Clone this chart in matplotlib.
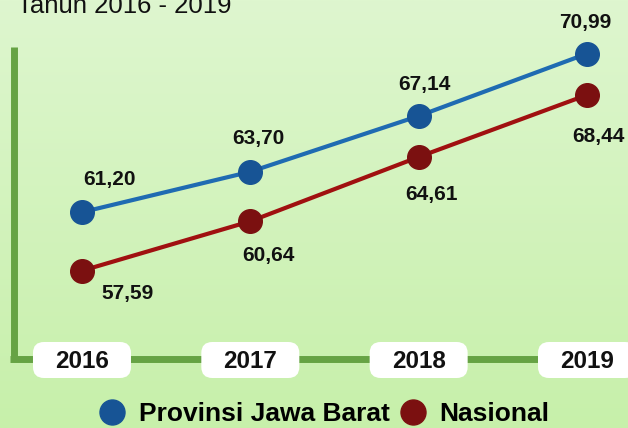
import numpy as np
import matplotlib.pyplot as plt
from matplotlib.patches import FancyBboxPatch
from matplotlib.lines import Line2D

plt.rcParams['font.family'] = ['Liberation Sans', 'DejaVu Sans']

# data
years = [2016, 2017, 2018, 2019]
jabar = [61.20, 63.70, 67.14, 70.99]
nasional = [57.59, 60.64, 64.61, 68.44]
jabar_txt = ['61,20', '63,70', '67,14', '70,99']
nasional_txt = ['57,59', '60,64', '64,61', '68,44']

# label offsets in pixels (dx, dy up)
off_jabar = [(28, 33), (8, 33), (6, 31), (-2, 31)]
off_nas = [(46, -23), (18, -34), (13, -38), (11, -42)]

W, H = 628, 428
fig = plt.figure(figsize=(W / 100, H / 100), dpi=100)

# background / decoration axes in pixel coords
bg = fig.add_axes([0, 0, 1, 1], zorder=0)
bg.set_xlim(0, W)
bg.set_ylim(H, 0)
bg.axis('off')
top = np.array([222, 246, 207]) / 255
bot = np.array([199, 240, 170]) / 255
t = np.linspace(0, 1, 256)[:, None]
grad = (top[None, :] * (1 - t) + bot[None, :] * t)[:, None, :]
bg.imshow(grad, extent=[0, W, H, 0], aspect='auto', zorder=0)

green = '#66a344'
bg.plot([13.5, 13.5], [47, 359], color=green, lw=5, solid_capstyle='butt', zorder=1)
bg.plot([10, W], [359, 359], color=green, lw=5, solid_capstyle='butt', zorder=1)

bg.text(17, 13, 'Tahun 2016 - 2019', fontsize=18.5, va='baseline', ha='left',
        color='#111111', zorder=3)

# main data axes
ax = fig.add_axes([0, 0, 1, 1], zorder=1)
ax.patch.set_alpha(0)
ax.set_xlim(2015.513, 2019.2436)
ax.set_ylim(47.88, 74.30)
ax.axis('off')

ax.plot(years, jabar, color='#1f6bb2', lw=3, marker='o', ms=17,
        markerfacecolor='#175495', markeredgecolor='#175495', zorder=3)
ax.plot(years, nasional, color='#a01010', lw=3, marker='o', ms=17,
        markerfacecolor='#7b1010', markeredgecolor='#7b1010', zorder=3)

for x, y, s, o in zip(years, jabar, jabar_txt, off_jabar):
    ax.annotate(s, (x, y), xytext=o, textcoords='offset pixels', ha='center',
                va='center', fontsize=15, fontweight='bold', color='#111111')
for x, y, s, o in zip(years, nasional, nasional_txt, off_nas):
    ax.annotate(s, (x, y), xytext=o, textcoords='offset pixels', ha='center',
                va='center', fontsize=15, fontweight='bold', color='#111111')

# year boxes, centred on the data x positions
for yr in years:
    px = ax.transData.transform((yr, 60))[0]
    bg.add_patch(FancyBboxPatch((px - 49, 342), 98, 36,
                                boxstyle='round,pad=0,rounding_size=11',
                                facecolor='white', edgecolor='none', zorder=2))
    bg.text(px, 361, str(yr), ha='center', va='center', fontsize=17.5,
            fontweight='bold', color='#111111', zorder=3)

handles = [Line2D([], [], ls='', marker='o', ms=18, color='#175495'),
           Line2D([], [], ls='', marker='o', ms=18, color='#7b1010')]
fig.legend(handles, ['Provinsi Jawa Barat', 'Nasional'], loc='center',
           bbox_to_anchor=(323 / W, 1 - 414 / H), ncol=2, frameon=False,
           prop={'weight': 'bold', 'size': 19}, handletextpad=0.4,
           columnspacing=0.3, handlelength=1.2)

fig.savefig('out.png', dpi=100)
